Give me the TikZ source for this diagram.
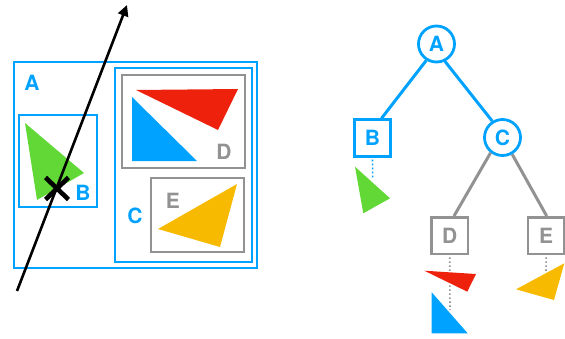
\documentclass[tikz,border=0pt]{standalone}
\usepackage{fontspec}
\setmainfont{TeX Gyre Heros}
\usetikzlibrary{arrows.meta}

\definecolor{kblue}{HTML}{00A2FF}
\definecolor{kgray}{HTML}{929292}
\definecolor{kgreen}{HTML}{61D836}
\definecolor{kred}{HTML}{EE220C}
\definecolor{kyellow}{HTML}{F8BA00}

\tikzset{
  tag/.style={font=\fontsize{21}{21}\selectfont\bfseries, inner sep=0pt},
  bluebox/.style={draw=kblue, line width=2.5pt},
  graybox/.style={draw=kgray, line width=2.5pt},
  bluetag/.style={tag, text=kblue},
  graytag/.style={tag, text=kgray},
  circnode/.style={circle, draw=kblue, line width=2.8pt, minimum size=36pt, fill=white, bluetag},
  bluesq/.style={rectangle, draw=kblue, line width=2.8pt, minimum size=36.5pt, fill=white, bluetag},
  graysq/.style={rectangle, draw=kgray, line width=2.8pt, minimum size=36.5pt, fill=white, graytag},
  blueedge/.style={draw=kblue, line width=3pt},
  grayedge/.style={draw=kgray, line width=3pt},
  leader/.style={line width=1.6pt, dash pattern=on 1.6pt off 2.4pt},
}

\begin{document}
\begin{tikzpicture}[x=1pt, y=-1pt]
\useasboundingbox (0,0) rectangle (565,338);

% ---- spatial view: nested bounding boxes ----
\draw[bluebox] (14,62) rectangle (257,268);
\draw[bluebox] (115,68) rectangle (252,262);
\draw[bluebox] (19,115) rectangle (97,207);
\draw[graybox] (122,75) rectangle (245,168);
\draw[graybox] (151,178) rectangle (244,252);

% shapes inside the boxes
\fill[kgreen] (25,123) -- (84,173) -- (37,200) -- cycle;
\fill[kred] (136,90) -- (238,89) -- (218,130) -- cycle;
\fill[kblue] (132,97) -- (132,161) -- (197,161) -- cycle;
\fill[kyellow] (237,184) -- (158,229) -- (220,247) -- cycle;

% box labels
\node[bluetag] (la) at (32,83) {A};
\node[bluetag] (lb) at (83,193) {B};
\node[bluetag] (lc) at (135,216) {C};
\node[graytag] (ld) at (224,152) {D};
\node[graytag] (le) at (173,201) {E};

% ray and hit point
\coordinate (rayS) at (17,291);
\coordinate (rayE) at (127,5);
\draw[line width=2.6pt, -{Triangle[length=11pt, width=10.5pt]}] (rayS) -- (rayE);
\draw[line width=4.6pt] (45.5,177.5) -- (68.5,199.5) (45.5,199.5) -- (68.5,177.5);

% ---- hierarchy tree ----
\node[circnode] (A) at (436.5,44) {A};
\node[bluesq]  (B) at (372.5,138) {B};
\node[circnode] (C) at (502.5,137.5) {C};
\node[graysq]  (D) at (449.7,235.7) {D};
\node[graysq]  (E) at (546.2,235.7) {E};

\draw[blueedge] (A.238) -- ([xshift=9pt]B.north);
\draw[blueedge] (A.296) -- (C.122);
\draw[grayedge] (C.232) -- ([xshift=4.3pt]D.north);
\draw[grayedge] (C.300) -- ([xshift=0.5pt]E.north);

% leaders from leaves to their shapes
\coordinate (bl) at (372.7,178);
\coordinate (dl) at (450,310);
\coordinate (el) at (546,272);
\draw[leader, kblue] ([yshift=-2pt]B.south) -- (bl);
\draw[leader, kgray] ([yshift=-2pt]D.south) -- (dl);
\draw[leader, kgray] ([yshift=-2pt]E.south) -- (el);

\fill[kgreen] (355,166.7) -- (390,198.3) -- (363.3,213.3) -- cycle;
\fill[kred] (424.3,270.7) -- (476,274) -- (467.3,291.7) -- cycle;
\fill[kblue] (431.7,292.3) -- (431.7,333.3) -- (467.7,333.3) -- cycle;
\fill[kyellow] (564.3,263.3) -- (516,289.3) -- (554,300) -- cycle;
\end{tikzpicture}
\end{document}
